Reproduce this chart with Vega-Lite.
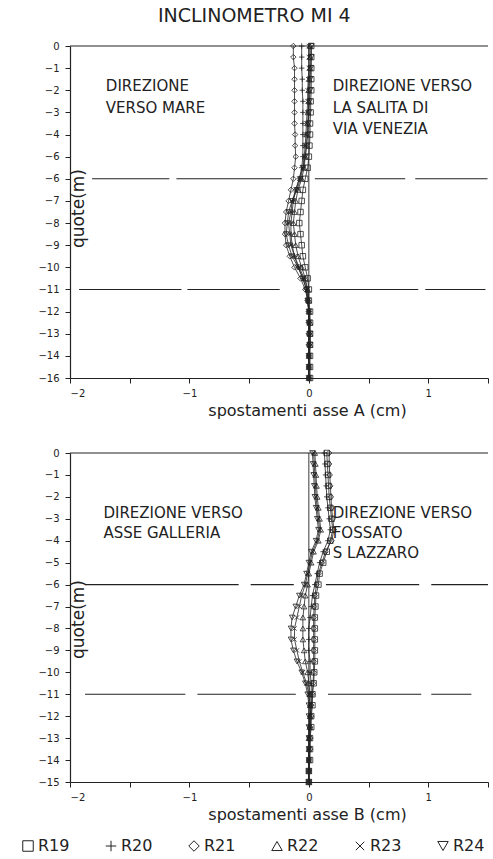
{
 "$schema": "https://vega.github.io/schema/vega-lite/v6.json",
 "padding": {"left": 20, "top": 7, "right": 0, "bottom": 0},
 "background": "white",
 "title": {"text": "INCLINOMETRO MI 4", "fontSize": 19, "font": "DejaVu Sans", "fontWeight": "normal", "anchor": "middle", "color": "#222", "offset": 15},
 "datasets": {
  "segs": [
   {"p":"A","y":0,"x":-2,"xe":1.5},
   {"p":"A","y":-6,"x":-1.815,"xe":-1.168},{"p":"A","y":-6,"x":-1.109,"xe":-0.227},{"p":"A","y":-6,"x":0.05,"xe":0.807},{"p":"A","y":-6,"x":0.891,"xe":1.496},
   {"p":"A","y":-11,"x":-1.924,"xe":-1.067},{"p":"A","y":-11,"x":-1.017,"xe":-0.244},{"p":"A","y":-11,"x":0.092,"xe":0.916},{"p":"A","y":-11,"x":0.975,"xe":1.479},
   {"p":"B","y":0,"x":-2,"xe":1.5},
   {"p":"B","y":-6,"x":-1.874,"xe":-0.588},{"p":"B","y":-6,"x":-0.487,"xe":-0.126},{"p":"B","y":-6,"x":0.143,"xe":0.924},{"p":"B","y":-6,"x":1.025,"xe":1.5},
   {"p":"B","y":-11,"x":-1.874,"xe":-1.034},{"p":"B","y":-11,"x":-0.933,"xe":-0.109},{"p":"B","y":-11,"x":0.16,"xe":0.941},{"p":"B","y":-11,"x":1.025,"xe":1.361}
  ],
  "vsegs": [
   {"p":"A","x":0,"y":0,"ye":-15},
   {"p":"B","x":0,"y":0,"ye":-15}
  ],
  "labels": [
   {"p":"A","x":-1.70,"y":-1.81,"t":"DIREZIONE"},
   {"p":"A","x":-1.70,"y":-2.8,"t":"VERSO MARE"},
   {"p":"A","x":0.2,"y":-1.81,"t":"DIREZIONE VERSO"},
   {"p":"A","x":0.2,"y":-2.8,"t":"LA SALITA  DI"},
   {"p":"A","x":0.2,"y":-3.75,"t":"VIA VENEZIA"},
   {"p":"B","x":-1.72,"y":-2.74,"t":"DIREZIONE VERSO"},
   {"p":"B","x":-1.72,"y":-3.65,"t":"ASSE GALLERIA"},
   {"p":"B","x":0.2,"y":-2.74,"t":"DIREZIONE VERSO"},
   {"p":"B","x":0.2,"y":-3.65,"t":"FOSSATO"},
   {"p":"B","x":0.2,"y":-4.57,"t":"S LAZZARO"}
  ],
  "pts": [
   {"p":"A","s":"R19","y":0,"x":0.02},{"p":"A","s":"R19","y":-0.5,"x":0.02},{"p":"A","s":"R19","y":-1,"x":0.02},{"p":"A","s":"R19","y":-1.5,"x":0.02},{"p":"A","s":"R19","y":-2,"x":0.02},{"p":"A","s":"R19","y":-2.5,"x":0.015},{"p":"A","s":"R19","y":-3,"x":0.015},{"p":"A","s":"R19","y":-3.5,"x":0.01},{"p":"A","s":"R19","y":-4,"x":0.01},{"p":"A","s":"R19","y":-4.5,"x":0.005},{"p":"A","s":"R19","y":-5,"x":0},{"p":"A","s":"R19","y":-5.5,"x":-0.01},{"p":"A","s":"R19","y":-6,"x":-0.03},{"p":"A","s":"R19","y":-6.5,"x":-0.05},{"p":"A","s":"R19","y":-7,"x":-0.06},{"p":"A","s":"R19","y":-7.5,"x":-0.07},{"p":"A","s":"R19","y":-8,"x":-0.08},{"p":"A","s":"R19","y":-8.5,"x":-0.07},{"p":"A","s":"R19","y":-9,"x":-0.06},{"p":"A","s":"R19","y":-9.5,"x":-0.05},{"p":"A","s":"R19","y":-10,"x":-0.03},{"p":"A","s":"R19","y":-10.5,"x":-0.01},{"p":"A","s":"R19","y":-11,"x":0},{"p":"A","s":"R19","y":-11.5,"x":0},{"p":"A","s":"R19","y":-12,"x":0.01},{"p":"A","s":"R19","y":-12.5,"x":0.01},{"p":"A","s":"R19","y":-13,"x":0.01},{"p":"A","s":"R19","y":-13.5,"x":0.01},{"p":"A","s":"R19","y":-14,"x":0.01},{"p":"A","s":"R19","y":-14.5,"x":0.01},{"p":"A","s":"R19","y":-15,"x":0.01},
   {"p":"A","s":"R20","y":0,"x":-0.06},{"p":"A","s":"R20","y":-0.5,"x":-0.06},{"p":"A","s":"R20","y":-1,"x":-0.06},{"p":"A","s":"R20","y":-1.5,"x":-0.055},{"p":"A","s":"R20","y":-2,"x":-0.055},{"p":"A","s":"R20","y":-2.5,"x":-0.05},{"p":"A","s":"R20","y":-3,"x":-0.05},{"p":"A","s":"R20","y":-3.5,"x":-0.05},{"p":"A","s":"R20","y":-4,"x":-0.05},{"p":"A","s":"R20","y":-4.5,"x":-0.05},{"p":"A","s":"R20","y":-5,"x":-0.05},{"p":"A","s":"R20","y":-5.5,"x":-0.06},{"p":"A","s":"R20","y":-6,"x":-0.08},{"p":"A","s":"R20","y":-6.5,"x":-0.11},{"p":"A","s":"R20","y":-7,"x":-0.13},{"p":"A","s":"R20","y":-7.5,"x":-0.14},{"p":"A","s":"R20","y":-8,"x":-0.15},{"p":"A","s":"R20","y":-8.5,"x":-0.15},{"p":"A","s":"R20","y":-9,"x":-0.14},{"p":"A","s":"R20","y":-9.5,"x":-0.12},{"p":"A","s":"R20","y":-10,"x":-0.09},{"p":"A","s":"R20","y":-10.5,"x":-0.05},{"p":"A","s":"R20","y":-11,"x":-0.02},{"p":"A","s":"R20","y":-11.5,"x":-0.01},{"p":"A","s":"R20","y":-12,"x":0},{"p":"A","s":"R20","y":-12.5,"x":0},{"p":"A","s":"R20","y":-13,"x":0},{"p":"A","s":"R20","y":-13.5,"x":0},{"p":"A","s":"R20","y":-14,"x":0},{"p":"A","s":"R20","y":-14.5,"x":0},{"p":"A","s":"R20","y":-15,"x":0},
   {"p":"A","s":"R21","y":0,"x":-0.13},{"p":"A","s":"R21","y":-0.5,"x":-0.13},{"p":"A","s":"R21","y":-1,"x":-0.12},{"p":"A","s":"R21","y":-1.5,"x":-0.12},{"p":"A","s":"R21","y":-2,"x":-0.12},{"p":"A","s":"R21","y":-2.5,"x":-0.12},{"p":"A","s":"R21","y":-3,"x":-0.12},{"p":"A","s":"R21","y":-3.5,"x":-0.12},{"p":"A","s":"R21","y":-4,"x":-0.115},{"p":"A","s":"R21","y":-4.5,"x":-0.115},{"p":"A","s":"R21","y":-5,"x":-0.11},{"p":"A","s":"R21","y":-5.5,"x":-0.12},{"p":"A","s":"R21","y":-6,"x":-0.13},{"p":"A","s":"R21","y":-6.5,"x":-0.15},{"p":"A","s":"R21","y":-7,"x":-0.17},{"p":"A","s":"R21","y":-7.5,"x":-0.19},{"p":"A","s":"R21","y":-8,"x":-0.2},{"p":"A","s":"R21","y":-8.5,"x":-0.2},{"p":"A","s":"R21","y":-9,"x":-0.19},{"p":"A","s":"R21","y":-9.5,"x":-0.16},{"p":"A","s":"R21","y":-10,"x":-0.12},{"p":"A","s":"R21","y":-10.5,"x":-0.07},{"p":"A","s":"R21","y":-11,"x":-0.03},{"p":"A","s":"R21","y":-11.5,"x":-0.01},{"p":"A","s":"R21","y":-12,"x":0},{"p":"A","s":"R21","y":-12.5,"x":0},{"p":"A","s":"R21","y":-13,"x":0},{"p":"A","s":"R21","y":-13.5,"x":0},{"p":"A","s":"R21","y":-14,"x":0},{"p":"A","s":"R21","y":-14.5,"x":0},{"p":"A","s":"R21","y":-15,"x":0},
   {"p":"A","s":"R22","y":0,"x":0.01},{"p":"A","s":"R22","y":-0.5,"x":0.01},{"p":"A","s":"R22","y":-1,"x":0.01},{"p":"A","s":"R22","y":-1.5,"x":0.005},{"p":"A","s":"R22","y":-2,"x":0},{"p":"A","s":"R22","y":-2.5,"x":0},{"p":"A","s":"R22","y":-3,"x":-0.005},{"p":"A","s":"R22","y":-3.5,"x":-0.01},{"p":"A","s":"R22","y":-4,"x":-0.015},{"p":"A","s":"R22","y":-4.5,"x":-0.02},{"p":"A","s":"R22","y":-5,"x":-0.03},{"p":"A","s":"R22","y":-5.5,"x":-0.04},{"p":"A","s":"R22","y":-6,"x":-0.06},{"p":"A","s":"R22","y":-6.5,"x":-0.09},{"p":"A","s":"R22","y":-7,"x":-0.11},{"p":"A","s":"R22","y":-7.5,"x":-0.12},{"p":"A","s":"R22","y":-8,"x":-0.13},{"p":"A","s":"R22","y":-8.5,"x":-0.12},{"p":"A","s":"R22","y":-9,"x":-0.11},{"p":"A","s":"R22","y":-9.5,"x":-0.09},{"p":"A","s":"R22","y":-10,"x":-0.06},{"p":"A","s":"R22","y":-10.5,"x":-0.03},{"p":"A","s":"R22","y":-11,"x":-0.01},{"p":"A","s":"R22","y":-11.5,"x":0},{"p":"A","s":"R22","y":-12,"x":0},{"p":"A","s":"R22","y":-12.5,"x":0.01},{"p":"A","s":"R22","y":-13,"x":0.01},{"p":"A","s":"R22","y":-13.5,"x":0.01},{"p":"A","s":"R22","y":-14,"x":0},{"p":"A","s":"R22","y":-14.5,"x":0},{"p":"A","s":"R22","y":-15,"x":0},
   {"p":"A","s":"R23","y":0,"x":0},{"p":"A","s":"R23","y":-0.5,"x":0},{"p":"A","s":"R23","y":-1,"x":0},{"p":"A","s":"R23","y":-1.5,"x":-0.005},{"p":"A","s":"R23","y":-2,"x":-0.01},{"p":"A","s":"R23","y":-2.5,"x":-0.01},{"p":"A","s":"R23","y":-3,"x":-0.015},{"p":"A","s":"R23","y":-3.5,"x":-0.02},{"p":"A","s":"R23","y":-4,"x":-0.025},{"p":"A","s":"R23","y":-4.5,"x":-0.03},{"p":"A","s":"R23","y":-5,"x":-0.04},{"p":"A","s":"R23","y":-5.5,"x":-0.05},{"p":"A","s":"R23","y":-6,"x":-0.08},{"p":"A","s":"R23","y":-6.5,"x":-0.11},{"p":"A","s":"R23","y":-7,"x":-0.14},{"p":"A","s":"R23","y":-7.5,"x":-0.15},{"p":"A","s":"R23","y":-8,"x":-0.17},{"p":"A","s":"R23","y":-8.5,"x":-0.16},{"p":"A","s":"R23","y":-9,"x":-0.15},{"p":"A","s":"R23","y":-9.5,"x":-0.12},{"p":"A","s":"R23","y":-10,"x":-0.08},{"p":"A","s":"R23","y":-10.5,"x":-0.04},{"p":"A","s":"R23","y":-11,"x":-0.01},{"p":"A","s":"R23","y":-11.5,"x":-0.01},{"p":"A","s":"R23","y":-12,"x":0},{"p":"A","s":"R23","y":-12.5,"x":0},{"p":"A","s":"R23","y":-13,"x":0},{"p":"A","s":"R23","y":-13.5,"x":0},{"p":"A","s":"R23","y":-14,"x":0},{"p":"A","s":"R23","y":-14.5,"x":0},{"p":"A","s":"R23","y":-15,"x":0},
   {"p":"A","s":"R24","y":0,"x":0.02},{"p":"A","s":"R24","y":-0.5,"x":0.02},{"p":"A","s":"R24","y":-1,"x":0.015},{"p":"A","s":"R24","y":-1.5,"x":0.01},{"p":"A","s":"R24","y":-2,"x":0.01},{"p":"A","s":"R24","y":-2.5,"x":0.005},{"p":"A","s":"R24","y":-3,"x":0},{"p":"A","s":"R24","y":-3.5,"x":-0.005},{"p":"A","s":"R24","y":-4,"x":-0.01},{"p":"A","s":"R24","y":-4.5,"x":-0.02},{"p":"A","s":"R24","y":-5,"x":-0.03},{"p":"A","s":"R24","y":-5.5,"x":-0.05},{"p":"A","s":"R24","y":-6,"x":-0.07},{"p":"A","s":"R24","y":-6.5,"x":-0.1},{"p":"A","s":"R24","y":-7,"x":-0.14},{"p":"A","s":"R24","y":-7.5,"x":-0.17},{"p":"A","s":"R24","y":-8,"x":-0.18},{"p":"A","s":"R24","y":-8.5,"x":-0.19},{"p":"A","s":"R24","y":-9,"x":-0.17},{"p":"A","s":"R24","y":-9.5,"x":-0.14},{"p":"A","s":"R24","y":-10,"x":-0.09},{"p":"A","s":"R24","y":-10.5,"x":-0.05},{"p":"A","s":"R24","y":-11,"x":-0.02},{"p":"A","s":"R24","y":-11.5,"x":-0.01},{"p":"A","s":"R24","y":-12,"x":0},{"p":"A","s":"R24","y":-12.5,"x":0},{"p":"A","s":"R24","y":-13,"x":0.01},{"p":"A","s":"R24","y":-13.5,"x":0.01},{"p":"A","s":"R24","y":-14,"x":0},{"p":"A","s":"R24","y":-14.5,"x":0},{"p":"A","s":"R24","y":-15,"x":0},
   {"p":"B","s":"R19","y":0,"x":0.15},{"p":"B","s":"R19","y":-0.5,"x":0.155},{"p":"B","s":"R19","y":-1,"x":0.16},{"p":"B","s":"R19","y":-1.5,"x":0.165},{"p":"B","s":"R19","y":-2,"x":0.17},{"p":"B","s":"R19","y":-2.5,"x":0.18},{"p":"B","s":"R19","y":-3,"x":0.19},{"p":"B","s":"R19","y":-3.5,"x":0.2},{"p":"B","s":"R19","y":-4,"x":0.18},{"p":"B","s":"R19","y":-4.5,"x":0.15},{"p":"B","s":"R19","y":-5,"x":0.12},{"p":"B","s":"R19","y":-5.5,"x":0.09},{"p":"B","s":"R19","y":-6,"x":0.08},{"p":"B","s":"R19","y":-6.5,"x":0.06},{"p":"B","s":"R19","y":-7,"x":0.055},{"p":"B","s":"R19","y":-7.5,"x":0.05},{"p":"B","s":"R19","y":-8,"x":0.05},{"p":"B","s":"R19","y":-8.5,"x":0.05},{"p":"B","s":"R19","y":-9,"x":0.05},{"p":"B","s":"R19","y":-9.5,"x":0.05},{"p":"B","s":"R19","y":-10,"x":0.045},{"p":"B","s":"R19","y":-10.5,"x":0.04},{"p":"B","s":"R19","y":-11,"x":0.03},{"p":"B","s":"R19","y":-11.5,"x":0.03},{"p":"B","s":"R19","y":-12,"x":0.02},{"p":"B","s":"R19","y":-12.5,"x":0.02},{"p":"B","s":"R19","y":-13,"x":0.01},{"p":"B","s":"R19","y":-13.5,"x":0.01},{"p":"B","s":"R19","y":-14,"x":0.01},{"p":"B","s":"R19","y":-14.5,"x":0},{"p":"B","s":"R19","y":-15,"x":0},
   {"p":"B","s":"R20","y":0,"x":0.13},{"p":"B","s":"R20","y":-0.5,"x":0.135},{"p":"B","s":"R20","y":-1,"x":0.14},{"p":"B","s":"R20","y":-1.5,"x":0.145},{"p":"B","s":"R20","y":-2,"x":0.15},{"p":"B","s":"R20","y":-2.5,"x":0.16},{"p":"B","s":"R20","y":-3,"x":0.17},{"p":"B","s":"R20","y":-3.5,"x":0.18},{"p":"B","s":"R20","y":-4,"x":0.16},{"p":"B","s":"R20","y":-4.5,"x":0.12},{"p":"B","s":"R20","y":-5,"x":0.09},{"p":"B","s":"R20","y":-5.5,"x":0.07},{"p":"B","s":"R20","y":-6,"x":0.05},{"p":"B","s":"R20","y":-6.5,"x":0.03},{"p":"B","s":"R20","y":-7,"x":0.02},{"p":"B","s":"R20","y":-7.5,"x":0.01},{"p":"B","s":"R20","y":-8,"x":0},{"p":"B","s":"R20","y":-8.5,"x":0},{"p":"B","s":"R20","y":-9,"x":0},{"p":"B","s":"R20","y":-9.5,"x":0.01},{"p":"B","s":"R20","y":-10,"x":0.01},{"p":"B","s":"R20","y":-10.5,"x":0.02},{"p":"B","s":"R20","y":-11,"x":0.02},{"p":"B","s":"R20","y":-11.5,"x":0.02},{"p":"B","s":"R20","y":-12,"x":0.01},{"p":"B","s":"R20","y":-12.5,"x":0.01},{"p":"B","s":"R20","y":-13,"x":0.01},{"p":"B","s":"R20","y":-13.5,"x":0},{"p":"B","s":"R20","y":-14,"x":0},{"p":"B","s":"R20","y":-14.5,"x":0},{"p":"B","s":"R20","y":-15,"x":0},
   {"p":"B","s":"R21","y":0,"x":0.17},{"p":"B","s":"R21","y":-0.5,"x":0.17},{"p":"B","s":"R21","y":-1,"x":0.175},{"p":"B","s":"R21","y":-1.5,"x":0.18},{"p":"B","s":"R21","y":-2,"x":0.185},{"p":"B","s":"R21","y":-2.5,"x":0.19},{"p":"B","s":"R21","y":-3,"x":0.2},{"p":"B","s":"R21","y":-3.5,"x":0.21},{"p":"B","s":"R21","y":-4,"x":0.19},{"p":"B","s":"R21","y":-4.5,"x":0.14},{"p":"B","s":"R21","y":-5,"x":0.11},{"p":"B","s":"R21","y":-5.5,"x":0.08},{"p":"B","s":"R21","y":-6,"x":0.065},{"p":"B","s":"R21","y":-6.5,"x":0.05},{"p":"B","s":"R21","y":-7,"x":0.045},{"p":"B","s":"R21","y":-7.5,"x":0.04},{"p":"B","s":"R21","y":-8,"x":0.04},{"p":"B","s":"R21","y":-8.5,"x":0.04},{"p":"B","s":"R21","y":-9,"x":0.04},{"p":"B","s":"R21","y":-9.5,"x":0.04},{"p":"B","s":"R21","y":-10,"x":0.04},{"p":"B","s":"R21","y":-10.5,"x":0.035},{"p":"B","s":"R21","y":-11,"x":0.03},{"p":"B","s":"R21","y":-11.5,"x":0.02},{"p":"B","s":"R21","y":-12,"x":0.02},{"p":"B","s":"R21","y":-12.5,"x":0.01},{"p":"B","s":"R21","y":-13,"x":0.01},{"p":"B","s":"R21","y":-13.5,"x":0.01},{"p":"B","s":"R21","y":-14,"x":0},{"p":"B","s":"R21","y":-14.5,"x":0},{"p":"B","s":"R21","y":-15,"x":0},
   {"p":"B","s":"R22","y":0,"x":0.05},{"p":"B","s":"R22","y":-0.5,"x":0.055},{"p":"B","s":"R22","y":-1,"x":0.06},{"p":"B","s":"R22","y":-1.5,"x":0.065},{"p":"B","s":"R22","y":-2,"x":0.07},{"p":"B","s":"R22","y":-2.5,"x":0.08},{"p":"B","s":"R22","y":-3,"x":0.09},{"p":"B","s":"R22","y":-3.5,"x":0.1},{"p":"B","s":"R22","y":-4,"x":0.08},{"p":"B","s":"R22","y":-4.5,"x":0.04},{"p":"B","s":"R22","y":-5,"x":0.02},{"p":"B","s":"R22","y":-5.5,"x":0},{"p":"B","s":"R22","y":-6,"x":-0.01},{"p":"B","s":"R22","y":-6.5,"x":-0.03},{"p":"B","s":"R22","y":-7,"x":-0.04},{"p":"B","s":"R22","y":-7.5,"x":-0.05},{"p":"B","s":"R22","y":-8,"x":-0.05},{"p":"B","s":"R22","y":-8.5,"x":-0.05},{"p":"B","s":"R22","y":-9,"x":-0.04},{"p":"B","s":"R22","y":-9.5,"x":-0.03},{"p":"B","s":"R22","y":-10,"x":-0.01},{"p":"B","s":"R22","y":-10.5,"x":0},{"p":"B","s":"R22","y":-11,"x":0.01},{"p":"B","s":"R22","y":-11.5,"x":0.01},{"p":"B","s":"R22","y":-12,"x":0.01},{"p":"B","s":"R22","y":-12.5,"x":0.01},{"p":"B","s":"R22","y":-13,"x":0},{"p":"B","s":"R22","y":-13.5,"x":0},{"p":"B","s":"R22","y":-14,"x":0},{"p":"B","s":"R22","y":-14.5,"x":0},{"p":"B","s":"R22","y":-15,"x":0},
   {"p":"B","s":"R23","y":0,"x":0.04},{"p":"B","s":"R23","y":-0.5,"x":0.045},{"p":"B","s":"R23","y":-1,"x":0.05},{"p":"B","s":"R23","y":-1.5,"x":0.055},{"p":"B","s":"R23","y":-2,"x":0.06},{"p":"B","s":"R23","y":-2.5,"x":0.07},{"p":"B","s":"R23","y":-3,"x":0.08},{"p":"B","s":"R23","y":-3.5,"x":0.09},{"p":"B","s":"R23","y":-4,"x":0.07},{"p":"B","s":"R23","y":-4.5,"x":0.03},{"p":"B","s":"R23","y":-5,"x":0.01},{"p":"B","s":"R23","y":-5.5,"x":-0.01},{"p":"B","s":"R23","y":-6,"x":-0.03},{"p":"B","s":"R23","y":-6.5,"x":-0.06},{"p":"B","s":"R23","y":-7,"x":-0.08},{"p":"B","s":"R23","y":-7.5,"x":-0.1},{"p":"B","s":"R23","y":-8,"x":-0.12},{"p":"B","s":"R23","y":-8.5,"x":-0.12},{"p":"B","s":"R23","y":-9,"x":-0.1},{"p":"B","s":"R23","y":-9.5,"x":-0.08},{"p":"B","s":"R23","y":-10,"x":-0.05},{"p":"B","s":"R23","y":-10.5,"x":-0.02},{"p":"B","s":"R23","y":-11,"x":0},{"p":"B","s":"R23","y":-11.5,"x":0.01},{"p":"B","s":"R23","y":-12,"x":0.01},{"p":"B","s":"R23","y":-12.5,"x":0},{"p":"B","s":"R23","y":-13,"x":0},{"p":"B","s":"R23","y":-13.5,"x":0},{"p":"B","s":"R23","y":-14,"x":0},{"p":"B","s":"R23","y":-14.5,"x":0},{"p":"B","s":"R23","y":-15,"x":0},
   {"p":"B","s":"R24","y":0,"x":0.03},{"p":"B","s":"R24","y":-0.5,"x":0.035},{"p":"B","s":"R24","y":-1,"x":0.04},{"p":"B","s":"R24","y":-1.5,"x":0.045},{"p":"B","s":"R24","y":-2,"x":0.05},{"p":"B","s":"R24","y":-2.5,"x":0.06},{"p":"B","s":"R24","y":-3,"x":0.07},{"p":"B","s":"R24","y":-3.5,"x":0.08},{"p":"B","s":"R24","y":-4,"x":0.06},{"p":"B","s":"R24","y":-4.5,"x":0.02},{"p":"B","s":"R24","y":-5,"x":0},{"p":"B","s":"R24","y":-5.5,"x":-0.02},{"p":"B","s":"R24","y":-6,"x":-0.04},{"p":"B","s":"R24","y":-6.5,"x":-0.08},{"p":"B","s":"R24","y":-7,"x":-0.11},{"p":"B","s":"R24","y":-7.5,"x":-0.14},{"p":"B","s":"R24","y":-8,"x":-0.15},{"p":"B","s":"R24","y":-8.5,"x":-0.15},{"p":"B","s":"R24","y":-9,"x":-0.13},{"p":"B","s":"R24","y":-9.5,"x":-0.1},{"p":"B","s":"R24","y":-10,"x":-0.06},{"p":"B","s":"R24","y":-10.5,"x":-0.03},{"p":"B","s":"R24","y":-11,"x":-0.01},{"p":"B","s":"R24","y":-11.5,"x":0},{"p":"B","s":"R24","y":-12,"x":0},{"p":"B","s":"R24","y":-12.5,"x":0},{"p":"B","s":"R24","y":-13,"x":0},{"p":"B","s":"R24","y":-13.5,"x":0},{"p":"B","s":"R24","y":-14,"x":0},{"p":"B","s":"R24","y":-14.5,"x":0},{"p":"B","s":"R24","y":-15,"x":0}
  ]
 },
 "spacing": 30,
 "vconcat": [
  {
   "width": 418, "height": 332,
   "encoding": {
    "x": {"field": "x", "type": "quantitative", "scale": {"domain": [-2, 1.5], "nice": false, "zero": false},
          "axis": {"title": "spostamenti asse A (cm)", "values": [-2,-1.5,-1,-0.5,0,0.5,1,1.5], "labelExpr": "datum.value % 1 === 0 ? format(datum.value, 'd') : ''", "titleX": 237, "titleFontSize": 16, "titlePadding": 4, "labelPadding": 5}},
    "y": {"field": "y", "type": "quantitative", "scale": {"domain": [-15, 0], "nice": false, "zero": false},
          "axis": {"title": "quote(m)", "values": [0,-1,-2,-3,-4,-5,-6,-7,-8,-9,-10,-11,-12,-13,-14,-15], "labelExpr": "datum.value === -5 ? '−6' : datum.value === -15 ? '−16' : datum.label", "titleX": 0, "titleY": 162, "titleAngle": 270, "titleBaseline": "top", "titleAlign": "center", "titleFontSize": 17, "labelPadding": 6}}
   },
   "layer": [
    {"data": {"name": "segs"}, "transform": [{"filter": "datum.p === 'A'"}], "mark": {"type": "rule", "stroke": "#222", "strokeWidth": 1.1}, "encoding": {"x2": {"field": "xe"}}},
    {"data": {"name": "vsegs"}, "transform": [{"filter": "datum.p === 'A'"}], "mark": {"type": "rule", "stroke": "#222", "strokeWidth": 0.9}, "encoding": {"y2": {"field": "ye"}}},
    {"data": {"name": "pts"}, "transform": [{"filter": "datum.p === 'A'"}], "mark": {"type": "line", "stroke": "#222", "strokeWidth": 0.8}, "encoding": {"detail": {"field": "s"}, "order": {"field": "y", "sort": "descending"}}},
    {"data": {"name": "pts"}, "transform": [{"filter": "datum.p === 'A'"}], "mark": {"type": "point", "filled": false, "stroke": "#222", "strokeWidth": 0.8, "size": 30, "opacity": 1},
     "encoding": {"shape": {"field": "s", "type": "nominal", "scale": {"domain": ["R19","R20","R21","R22","R23","R24"], "range": ["square", "M-1,0L1,0M0,-1L0,1", "diamond", "triangle-up", "M-0.8,-0.8L0.8,0.8M-0.8,0.8L0.8,-0.8", "triangle-down"]}, "legend": {"title": null, "orient": "none", "direction": "horizontal", "legendX": -50, "legendY": 792, "labelFontSize": 16, "symbolSize": 110, "symbolStrokeWidth": 1, "symbolStrokeColor": "#222", "symbolFillColor": "white", "columnPadding": 33, "labelOffset": 2, "labelColor": "#222", "labelFont": "DejaVu Sans"}}}},
    {"data": {"name": "labels"}, "transform": [{"filter": "datum.p === 'A'"}], "mark": {"type": "text", "align": "left", "baseline": "middle", "fontSize": 15, "font": "DejaVu Sans", "color": "#222"}, "encoding": {"text": {"field": "t"}}}
   ]
  },
  {
   "width": 418, "height": 329,
   "encoding": {
    "x": {"field": "x", "type": "quantitative", "scale": {"domain": [-2, 1.5], "nice": false, "zero": false},
          "axis": {"title": "spostamenti asse B (cm)", "values": [-2,-1.5,-1,-0.5,0,0.5,1,1.5], "labelExpr": "datum.value % 1 === 0 ? format(datum.value, 'd') : ''", "titleX": 237, "titleFontSize": 16, "titlePadding": 4, "labelPadding": 5}},
    "y": {"field": "y", "type": "quantitative", "scale": {"domain": [-15, 0], "nice": false, "zero": false},
          "axis": {"title": "quote(m)", "values": [0,-1,-2,-3,-4,-5,-6,-7,-8,-9,-10,-11,-12,-13,-14,-15], "titleX": 0, "titleY": 166, "titleAngle": 270, "titleBaseline": "top", "titleAlign": "center", "titleFontSize": 17, "labelPadding": 6}}
   },
   "layer": [
    {"data": {"name": "segs"}, "transform": [{"filter": "datum.p === 'B'"}], "mark": {"type": "rule", "stroke": "#222", "strokeWidth": 1.1}, "encoding": {"x2": {"field": "xe"}}},
    {"data": {"name": "vsegs"}, "transform": [{"filter": "datum.p === 'B'"}], "mark": {"type": "rule", "stroke": "#222", "strokeWidth": 0.9}, "encoding": {"y2": {"field": "ye"}}},
    {"data": {"name": "pts"}, "transform": [{"filter": "datum.p === 'B'"}], "mark": {"type": "line", "stroke": "#222", "strokeWidth": 0.8}, "encoding": {"detail": {"field": "s"}, "order": {"field": "y", "sort": "descending"}}},
    {"data": {"name": "pts"}, "transform": [{"filter": "datum.p === 'B'"}], "mark": {"type": "point", "filled": false, "stroke": "#222", "strokeWidth": 0.8, "size": 30, "opacity": 1},
     "encoding": {"shape": {"field": "s", "type": "nominal"}}},
    {"data": {"name": "labels"}, "transform": [{"filter": "datum.p === 'B'"}], "mark": {"type": "text", "align": "left", "baseline": "middle", "fontSize": 15, "font": "DejaVu Sans", "color": "#222"}, "encoding": {"text": {"field": "t"}}}
   ]
  }
 ],
 "config": {
  "view": {"stroke": null},
  "font": "DejaVu Sans",
  "axis": {"domainColor": "#222", "tickColor": "#222", "labelColor": "#222", "titleColor": "#222", "labelFontSize": 10, "titleFontWeight": "normal", "grid": false, "tickSize": 5, "domainWidth": 1.2, "tickWidth": 1, "labelFont": "DejaVu Sans", "titleFont": "DejaVu Sans"}
 }
}
